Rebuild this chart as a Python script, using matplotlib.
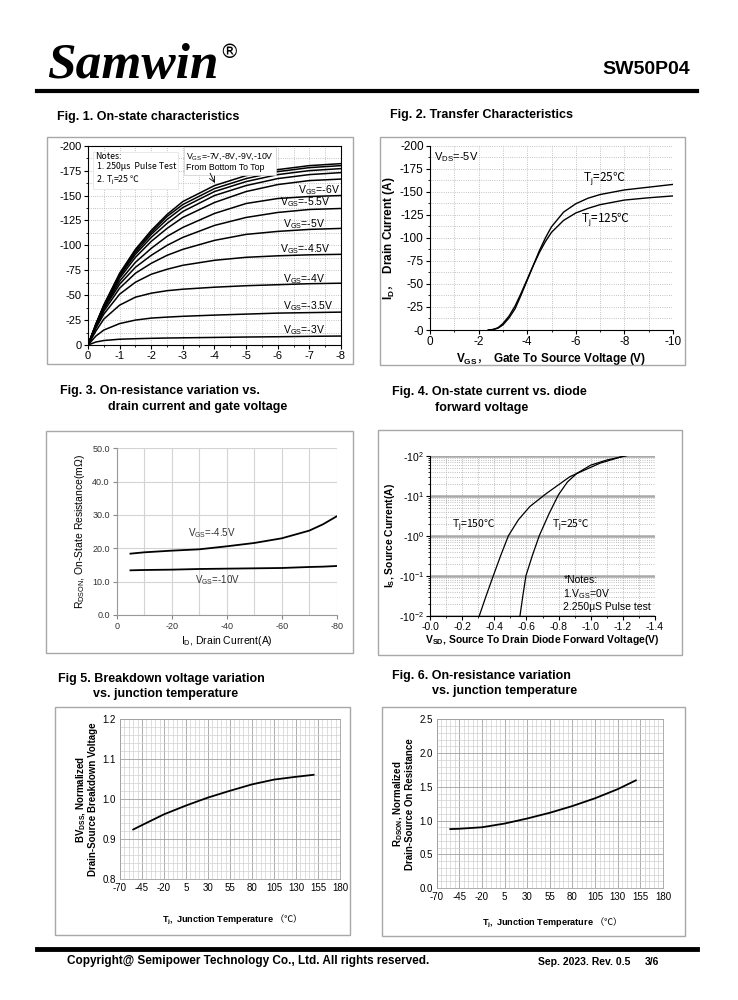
import matplotlib
matplotlib.use('Agg')
import matplotlib.pyplot as plt
import numpy as np
from matplotlib.patches import Rectangle
from matplotlib.lines import Line2D
from matplotlib.ticker import MultipleLocator, LogLocator, NullFormatter

plt.rcParams['font.family'] = ['Liberation Sans', 'DejaVu Sans', 'Noto Sans CJK SC']
plt.rcParams['mathtext.fontset'] = 'custom'
plt.rcParams['mathtext.rm'] = 'Liberation Sans'
plt.rcParams['mathtext.it'] = 'Liberation Sans:italic'
plt.rcParams['mathtext.bf'] = 'Liberation Sans:bold'
plt.rcParams['axes.unicode_minus'] = False
CJK = 'Noto Sans CJK SC'  # used for mathtext strings that also hold ℃ / full-width signs

# ---- data (magnitudes) ----
# Fig 1: output characteristics, |VDS| grid and |ID| per VGS curve
fig1_vds = [0, 0.25, 0.5, 1, 1.5, 2, 2.5, 3, 4, 5, 6, 7, 8]
fig1_vgs = [-3, -3.5, -4, -4.5, -5, -5.5, -6, -6.5, -7, -8, -9, -10]
fig1_id = [
    [0, 3, 4.5, 5.8, 6.3, 6.7, 7, 7.2, 7.6, 8, 8.3, 8.7, 9],
    [0, 9, 15, 21.5, 25, 27, 28, 28.8, 30, 31, 32, 32.5, 33],
    [0, 14, 26, 40, 48, 52, 54.5, 56, 58, 59.5, 60.5, 61.5, 62],
    [0, 17, 31, 51, 63, 71, 76, 80, 85, 88, 89.5, 90.5, 91],
    [0, 18, 34, 57, 72, 82, 90, 96, 105, 111, 114, 116, 117],
    [0, 19, 36, 61, 78, 90, 100, 108, 120, 128, 133, 136, 137],
    [0, 19, 37, 64, 83, 97, 109, 118, 132, 142, 147, 149, 150],
    [0, 20, 38, 67, 88, 104, 117, 128, 143, 154, 161, 165, 166.5],
    [0, 20, 39, 69, 91, 108, 122, 134, 150, 160, 167, 171, 173],
    [0, 21, 39, 70, 93, 111, 126, 138, 154, 164, 171, 175, 177],
    [0, 21, 40, 71, 95, 113, 129, 141, 157, 167, 174, 178, 180],
    [0, 21, 40, 72, 96, 115, 131, 144, 160, 170, 176, 180, 182],
]
fig1_labels = ['-3V', '-3.5V', '-4V', '-4.5V', '-5V', '-5.5V', '-6V']

# Fig 2: transfer characteristics
fig2_vgs = [2.4, 2.6, 2.8, 3, 3.25, 3.5, 3.75, 4, 4.25, 4.5, 4.75, 5, 5.5, 6, 6.5, 7, 8, 9, 10]
fig2_id25 = [0, 0.5, 2, 5.5, 13, 23, 38, 54, 70, 86, 100, 112, 128, 137, 143, 147, 152, 155, 158]
fig2_id125 = [0, 0.6, 2.5, 7, 15, 26, 40, 55, 70, 84, 96, 106, 119, 127, 132, 136, 141, 143.5, 145.5]

# Fig 3: RDS(on) vs ID
fig3_id = [5, 10, 20, 30, 40, 50, 60, 70, 75, 80]
fig3_r45 = [18.4, 18.8, 19.3, 19.7, 20.6, 21.6, 23.0, 25.3, 27.2, 29.6]
fig3_r10 = [13.4, 13.5, 13.6, 13.8, 13.9, 14.0, 14.1, 14.4, 14.5, 14.7]

# Fig 4: body diode
fig4_v150 = [0.307, 0.35, 0.394, 0.44, 0.488, 0.55, 0.622, 0.726, 0.871, 1.058, 1.213]
fig4_i150 = [0.01, 0.032, 0.1, 0.32, 1.0, 2.5, 5.4, 11.5, 30, 65, 100]
fig4_v25 = [0.56, 0.578, 0.597, 0.637, 0.68, 0.74, 0.799, 0.855, 0.913, 1.0, 1.10, 1.224]
fig4_i25 = [0.01, 0.032, 0.1, 0.32, 1.0, 3.5, 10.5, 22, 36, 58, 78, 100]

# Fig 5 / Fig 6: normalized vs temperature
temp = [-55, -45, -20, 5, 30, 55, 80, 105, 130, 150]
fig5_bv = [0.924, 0.935, 0.962, 0.984, 1.004, 1.021, 1.037, 1.049, 1.056, 1.061]
fig6_r = [0.873, 0.878, 0.90, 0.955, 1.03, 1.115, 1.215, 1.33, 1.465, 1.595]

W, H = 738, 1000
fig = plt.figure(figsize=(W / 100, H / 100), dpi=100)


def box(x0, y0, x1, y1):
    return [x0 / W, 1 - y1 / H, (x1 - x0) / W, (y1 - y0) / H]


def frame(x0, y0, x1, y1):
    fig.add_artist(Rectangle((x0 / W, 1 - y1 / H), (x1 - x0) / W, (y1 - y0) / H,
                             transform=fig.transFigure, fill=False, ec='#a8a8a8', lw=1))


def ftext(x, y, s, **kw):
    kw.setdefault('va', 'center')
    fig.text(x / W, 1 - y / H, s, **kw)


def hline(y, lw):
    fig.add_artist(Line2D([37 / W, 697 / W], [1 - y / H] * 2, lw=lw, color='black'))


# ---- page header / footer ----
ftext(47, 78, 'Samwin', fontsize=37, family='Liberation Serif', weight='bold',
      style='italic', va='baseline')
ftext(219, 52, '®', fontsize=14, family='DejaVu Sans', va='center')
ftext(690, 69, 'SW50P04', fontsize=14, weight='bold', ha='right')
hline(91, 3)
hline(949, 3.5)
ftext(67, 961, 'Copyright@ Semipower Technology Co., Ltd. All rights reserved.',
      fontsize=8.5, weight='bold')
ftext(538, 962, 'Sep. 2023. Rev. 0.5', fontsize=7.5, weight='bold')
ftext(645, 962, '3/6', fontsize=7.5, weight='bold')

# titles
tkw = dict(fontsize=9, weight='bold')
ftext(57, 117, 'Fig. 1. On-state characteristics', **tkw)
ftext(390, 115, 'Fig. 2. Transfer Characteristics', **tkw)
ftext(60, 391, 'Fig. 3. On-resistance variation vs.', **tkw)
ftext(108, 407, 'drain current and gate voltage', **tkw)
ftext(392, 392, 'Fig. 4. On-state current vs. diode', **tkw)
ftext(435, 408, 'forward voltage', **tkw)
ftext(58, 679, 'Fig 5. Breakdown voltage variation', **tkw)
ftext(93, 694, 'vs. junction temperature', **tkw)
ftext(392, 676, 'Fig. 6. On-resistance variation', **tkw)
ftext(432, 691, 'vs. junction temperature', **tkw)

frame(47, 137, 353, 364)
frame(380, 137, 685, 365)
frame(46, 431, 353, 653)
frame(378, 430, 682, 655)
frame(55, 707, 350, 935)
frame(382, 707, 685, 936)

# ---- Fig 1 ----
ax1 = fig.add_axes(box(88, 145.7, 341, 345))
for cur in fig1_id:
    ax1.plot(-np.array(fig1_vds), -np.array(cur), color='black', lw=1.1)
ax1.set_xlim(0, -8)
ax1.set_ylim(0, -200)
ax1.set_xticks(np.arange(0, -8.5, -1))
ax1.set_xticklabels([str(v) for v in range(0, -9, -1)])
ax1.set_yticks(np.arange(0, -201, -25))
ax1.set_yticklabels([str(v) for v in range(0, -201, -25)])
ax1.xaxis.set_minor_locator(MultipleLocator(0.5))
ax1.yaxis.set_minor_locator(MultipleLocator(12.5))
ax1.grid(which='both', color='#b0b0b0', ls=':', lw=0.6)
ax1.tick_params(which='major', direction='out', length=3, labelsize=8, pad=1.5)
ax1.tick_params(which='minor', direction='out', length=1.5)
lab_pos = [(-6.17, -15), (-6.17, -39.5), (-6.17, -66.5), (-6.08, -96),
           (-6.17, -121), (-6.08, -143), (-6.65, -155.5)]
for lab, (x, y) in zip(fig1_labels, lab_pos):
    ax1.text(x, y, r'V$_{\rm GS}$=' + lab, fontsize=7.5, va='center', ha='left')
ax1.text(-0.22, -194, 'Notes:\n 1. 250μs  Pulse Test\n 2. T$_{\\rm j}$=25 ℃', fontsize=6.3,
         va='top', ha='left', linespacing=1.25, family=CJK,
         bbox=dict(fc='white', ec='#e0e0e0', lw=0.5, pad=1.5))
ax1.text(-3.09, -195, 'V$_{\\rm GS}$=-7V,-8V,-9V,-10V\nFrom Bottom To Top', fontsize=6.3,
         va='top', ha='left', linespacing=1.25,
         bbox=dict(fc='white', ec='#cccccc', lw=0.5, pad=1.5))
ax1.annotate('', xy=(-4.05, -160), xytext=(-3.82, -175),
             arrowprops=dict(arrowstyle='->', lw=0.6, color='black'))

# ---- Fig 2 ----
ax2 = fig.add_axes(box(430, 145.7, 673, 330))
ax2.plot(-np.array(fig2_vgs), -np.array(fig2_id25), color='black', lw=1)
ax2.plot(-np.array(fig2_vgs), -np.array(fig2_id125), color='black', lw=1)
ax2.set_xlim(0, -10)
ax2.set_ylim(0, -200)
ax2.set_xticks(np.arange(0, -10.5, -2))
ax2.set_xticklabels(['0', '-2', '-4', '-6', '-8', '-10'])
ax2.set_yticks(np.arange(0, -201, -25))
ax2.set_yticklabels(['-0'] + [str(v) for v in range(-25, -201, -25)])
ax2.xaxis.set_minor_locator(MultipleLocator(1))
ax2.yaxis.set_minor_locator(MultipleLocator(12.5))
ax2.grid(which='both', color='#b0b0b0', ls=':', lw=0.6)
ax2.tick_params(which='major', direction='out', length=3, labelsize=8.5, pad=1.5)
ax2.tick_params(which='minor', direction='out', length=1.5)
for s in ['top', 'right']:
    ax2.spines[s].set_visible(False)
ax2.set_xlabel(r'$\mathbf{V_{GS}}$，  $\mathbf{Gate\ To\ Source\ Voltage\ (V)}$',
               fontsize=8.5, family=CJK, labelpad=2)
ax2.set_ylabel(r'$\mathbf{I_{D}}$，  $\mathbf{Drain\ Current\ (A)}$', fontsize=8.5,
               family=CJK, labelpad=2)
ax2.text(-0.15, -188, r'V$_{\rm DS}$=-5V', fontsize=8, va='center')
ax2.text(-6.3, -164, r'$\mathrm{T_{j}}$=25℃', fontsize=8.5, va='center', family=CJK)
ax2.text(-6.2, -119, r'$\mathrm{T_{j}}$=125℃', fontsize=8.5, va='center', family=CJK)

# ---- Fig 3 ----
ax3 = fig.add_axes(box(116.7, 448.3, 336.7, 615))
ax3.plot(-np.array(fig3_id), fig3_r45, color='black', lw=1.3)
ax3.plot(-np.array(fig3_id), fig3_r10, color='black', lw=1.3)
ax3.set_xlim(0, -80)
ax3.set_ylim(0, 50)
ax3.set_xticks([0, -20, -40, -60, -80])
ax3.set_xticklabels(['0', '-20', '-40', '-60', '-80'])
ax3.set_yticks([0, 10, 20, 30, 40, 50])
ax3.set_yticklabels(['0.0', '10.0', '20.0', '30.0', '40.0', '50.0'])
ax3.xaxis.set_minor_locator(MultipleLocator(10))
ax3.grid(which='both', color='#d4d4d4', ls='-', lw=0.8)
ax3.tick_params(which='major', direction='out', length=3, labelsize=6.5, pad=2,
                color='#888888', labelcolor='#333333')
ax3.tick_params(which='minor', length=0)
for s in ['top', 'right']:
    ax3.spines[s].set_visible(False)
for s in ['left', 'bottom']:
    ax3.spines[s].set_color('#999999')
ax3.set_xlabel(r'I$_{\rm D}$, Drain Current(A)', fontsize=7.5, labelpad=2)
ax3.set_ylabel(r'R$_{\rm DSON}$, On-State Resistance(mΩ)', fontsize=7.5, labelpad=4)
ax3.text(-26, 24.7, r'V$_{\rm GS}$=-4.5V', fontsize=7, va='center', color='#333333')
ax3.text(-28.5, 10.5, r'V$_{\rm GS}$=-10V', fontsize=7, va='center', color='#333333')

# ---- Fig 4 ----
ax4 = fig.add_axes(box(430, 455.7, 655, 615.7))
ax4.set_yscale('log')
ax4.plot(-np.array(fig4_v150), fig4_i150, color='black', lw=0.9)
ax4.plot(-np.array(fig4_v25), fig4_i25, color='black', lw=0.9)
ax4.set_xlim(0, -1.4)
ax4.set_ylim(0.01, 100)
ax4.set_xticks(np.arange(0, -1.41, -0.2))
ax4.set_xticklabels(['-0.0', '-0.2', '-0.4', '-0.6', '-0.8', '-1.0', '-1.2', '-1.4'])
ax4.xaxis.set_minor_locator(MultipleLocator(0.1))
ax4.set_yticks([0.01, 0.1, 1, 10, 100])
ax4.set_yticklabels(['-10$^{-2}$', '-10$^{-1}$', '-10$^{0}$', '-10$^{1}$', '-10$^{2}$'])
ax4.yaxis.set_minor_locator(LogLocator(base=10, subs=np.arange(2, 10)))
ax4.yaxis.set_minor_formatter(NullFormatter())
ax4.grid(axis='y', which='major', color='#a8a8a8', ls='-', lw=1.8)
ax4.grid(axis='y', which='minor', color='#a8a8a8', ls=':', lw=0.6)
ax4.grid(axis='x', which='both', color='#a8a8a8', ls=':', lw=0.6)
ax4.tick_params(which='major', direction='out', length=3, labelsize=7.5, pad=1.5)
ax4.tick_params(which='minor', direction='out', length=1.5)
for s in ['top', 'right']:
    ax4.spines[s].set_visible(False)
ax4.set_xlabel(r'$\mathbf{V_{SD}}$, Source To Drain Diode Forward Voltage(V)',
               fontsize=7.5, weight='bold', labelpad=1)
ax4.set_ylabel(r'$\mathbf{I_{S}}$, Source Current(A)', fontsize=7.5, weight='bold',
               labelpad=1)
ax4.text(-0.135, 1.1, r'$\mathrm{T_{j}}$=150℃', fontsize=7.5, va='bottom', family=CJK)
ax4.text(-0.757, 1.1, r'$\mathrm{T_{j}}$=25℃', fontsize=7.5, va='bottom', family=CJK)
ax4.text(-0.83, 0.078, '*Notes:', fontsize=7.5, va='center')
ax4.text(-0.83, 0.034, r'1.V$_{\rm GS}$=0V', fontsize=7.5, va='center')
ax4.text(-0.83, 0.0166, '2.250μS Pulse test', fontsize=7.5, va='center')


# ---- Fig 5 / Fig 6 ----
def temp_axes(rect, yvals, ylo, yhi, ystep, ylabel, xpad):
    ax = fig.add_axes(rect)
    ax.plot(temp, yvals, color='black', lw=1.3)
    ax.set_xlim(-70, 180)
    ax.set_ylim(ylo, yhi)
    ax.set_xticks(np.arange(-70, 181, 25))
    ax.set_xticklabels([str(v) for v in range(-70, 181, 25)])
    yt = np.arange(ylo, yhi + ystep / 2, ystep)
    ax.set_yticks(yt)
    ax.set_yticklabels(['%.1f' % v for v in yt])
    ax.xaxis.set_minor_locator(MultipleLocator(5))
    ax.yaxis.set_minor_locator(MultipleLocator(ystep / 5))
    ax.grid(which='major', color='#a0a0a0', lw=0.6)
    ax.grid(which='minor', color='#d0d0d0', lw=0.5)
    ax.tick_params(which='both', length=0, labelsize=7, pad=3)
    for s in ax.spines.values():
        s.set_color('#a0a0a0')
        s.set_linewidth(0.6)
    ax.set_xlabel(r'$\mathbf{T_{j},\ Junction\ Temperature}$ （℃）', fontsize=6.6,
                  family=CJK, labelpad=xpad)
    ax.set_ylabel(ylabel, fontsize=7, weight='bold', labelpad=3, linespacing=1.0)
    return ax


temp_axes(box(120, 719.3, 340, 879), fig5_bv, 0.8, 1.2, 0.1,
          r'$\mathbf{BV_{DSS}}$, Normalized' + '\nDrain-Source Breakdown Voltage', 14)
temp_axes(box(436.7, 719.3, 663, 888), fig6_r, 0.0, 2.5, 0.5,
          r'$\mathbf{R_{DSON}}$, Normalized' + '\nDrain-Source On Resistance', 10)

fig.savefig('out.png', dpi=100)
